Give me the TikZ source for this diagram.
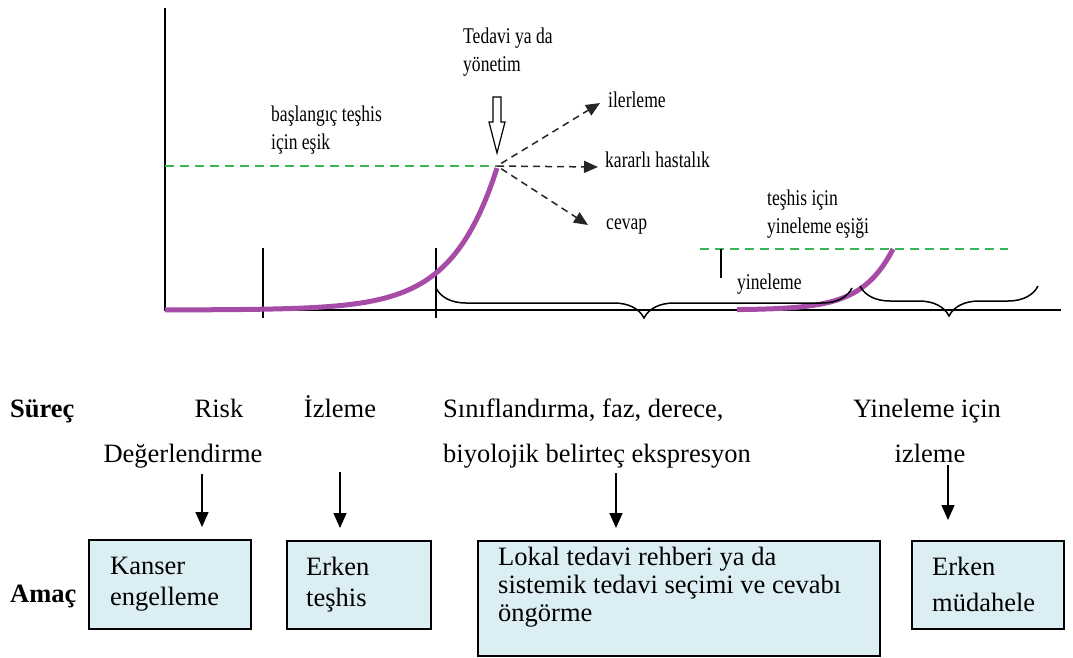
\documentclass[tikz,border=0pt]{standalone}
\usepackage{fontspec}
\setmainfont{Liberation Serif}
\newfontfamily\condfont[FakeStretch=0.78]{Liberation Serif}
\usetikzlibrary{calc,arrows.meta,decorations.pathreplacing}
\definecolor{curvepurple}{RGB}{166,76,166}
\definecolor{threshgreen}{RGB}{60,180,90}
\definecolor{boxblue}{RGB}{219,238,244}

\begin{document}
\begin{tikzpicture}[x=1pt,y=-1pt,
    axis/.style={line width=1.5pt},
    tickline/.style={line width=1.8pt},
    thresh/.style={threshgreen, line width=1.5pt, dash pattern=on 9pt off 6pt},
    curve/.style={curvepurple, line width=5pt},
    outcome/.style={black!85, line width=1.5pt, dash pattern=on 7pt off 5pt, -{Triangle[length=14pt,width=12pt]}},
    smalltext/.style={font=\condfont\fontsize{22.5}{28}\selectfont, inner sep=0pt, align=left},
    bigtext/.style={font=\fontsize{26.5}{31}\selectfont, inner sep=0pt, align=left},
    flow/.style={line width=1.5pt, -{Triangle[length=15pt,width=13pt]}},
    goalbox/.style={draw, line width=2pt, fill=boxblue, anchor=north west, inner sep=0pt},
    bracestyle/.style={line width=1.5pt, decorate, decoration={brace, mirror, amplitude=30pt}}]

    \useasboundingbox (0,0) rectangle (1073,657);

    % axes and ticks
    \coordinate (O) at (165,310);
    \coordinate (ytop) at (165,8);
    \coordinate (xend) at (1061,310);
    \draw[axis] (ytop) -- (O) -- (xend);
    \coordinate (t1) at (263,248);
    \coordinate (t2) at (436,248);
    \draw[tickline] (t1) -- ++(0,70);
    \draw[tickline] (t2) -- ++(0,70);

    % thresholds
    \coordinate (apex) at (497,166);
    \draw[thresh] (O |- apex) -- (apex);
    \coordinate (r1) at (700,249);
    \coordinate (r2) at (1008,249);
    \draw[thresh] (r1) -- (r2);
    \coordinate (rt) at (721,249);
    \draw[line width=1.5pt] (rt) -- ++(0,29);

    % growth curves
    \draw[curve] plot[domain=165:497, samples=80] (\x, {310-142*exp((\x-497)/45.3)});
    \draw[curve] plot[domain=737:893, samples=50] (\x, {310-61*exp((\x-893)/31)});

    % braces
    \coordinate (b1) at (436,288);
    \coordinate (b2) at (852,288);
    \coordinate (b3) at (860,286);
    \coordinate (b4) at (1038,286);
    \draw[bracestyle] (b1) -- (b2);
    \draw[bracestyle] (b3) -- (b4);

    % treatment arrow
    \draw[line width=1.2pt, fill=white] (493,97) -- (501,97) -- (501,122) -- (505,122)
        -- (497,153) -- (489,122) -- (493,122) -- cycle;

    % labels of the graph
    \node[smalltext, anchor=north west] (tedavi) at (463,28) {Tedavi ya da\\yönetim};
    \node[smalltext, anchor=north west] (esik) at (271,106) {başlangıç teşhis\\için eşik};
    \node[smalltext, anchor=north west] (yesik) at (767,190) {teşhis için\\yineleme eşiği};
    \node[smalltext, anchor=base west] (il) at (608,107) {ilerleme};
    \node[smalltext, anchor=base west] (kh) at (605,167) {kararlı hastalık};
    \node[smalltext, anchor=base west] (cv) at (606,229) {cevap};
    \node[smalltext, anchor=base west] (yin) at (737,289) {yineleme};

    \draw[outcome, shorten <=5pt] (apex) -- ($(il.base west)+(-8,-4)$);
    \draw[outcome] (apex) -- ($(kh.base west)+(-7,0)$);
    \draw[outcome, shorten <=5pt] (apex) -- ($(cv.base west)+(-18,-4)$);

    % process row
    \node[bigtext, anchor=base west, font=\bfseries\fontsize{26.5}{31}\selectfont] (surec) at (10,417) {Süreç};
    \node[bigtext, anchor=base] (risk) at (219,417) {Risk};
    \node[bigtext, anchor=base] (deger) at (183,462) {Değerlendirme};
    \node[bigtext, anchor=base] (izl) at (340,417) {İzleme};
    \node[bigtext, anchor=base west] (sinif) at (443,417) {Sınıflandırma, faz, derece,};
    \node[bigtext, anchor=base west] (biyo) at (443,462) {biyolojik belirteç ekspresyon};
    \node[bigtext, anchor=base] (yine) at (927,417) {Yineleme için};
    \node[bigtext, anchor=base] (yizl) at (930,462) {izleme};

    % goal row
    \node[bigtext, anchor=base west, font=\bfseries\fontsize{26.5}{31}\selectfont] (amac) at (10,602) {Amaç};
    \node[goalbox, minimum width=162pt, minimum height=89pt] (k1) at (88,539) {};
    \node[goalbox, minimum width=144pt, minimum height=88pt] (k2) at (286,540) {};
    \node[goalbox, minimum width=402pt, minimum height=115pt] (k3) at (477,540) {};
    \node[goalbox, minimum width=152pt, minimum height=88pt] (k4) at (911,540) {};
    \node[bigtext, anchor=north west] (g1) at ($(k1.north west)+(22,18)$) {Kanser\\engelleme};
    \node[bigtext, anchor=north west] (g2) at ($(k2.north west)+(20,17)$) {Erken\\teşhis};
    \node[bigtext, anchor=north west, font=\fontsize{26.5}{28}\selectfont] (g3) at ($(k3.north west)+(21,7)$) {Lokal tedavi rehberi ya da\\sistemik tedavi seçimi ve cevabı\\öngörme};
    \node[bigtext, anchor=north west, font=\fontsize{26.5}{36}\selectfont] (g4) at ($(k4.north west)+(21,17)$) {Erken\\müdahele};

    \coordinate (p1) at (202,474);
    \coordinate (p2) at (340,472);
    \coordinate (p3) at (616,473);
    \coordinate (p4) at (948,465);
    \draw[flow, shorten >=12pt] (p1) -- (p1 |- k1.north);
    \draw[flow, shorten >=12pt] (p2) -- (p2 |- k2.north);
    \draw[flow, shorten >=12pt] (p3) -- (p3 |- k3.north);
    \draw[flow, shorten >=20pt] (p4) -- (p4 |- k4.north);
\end{tikzpicture}
\end{document}
